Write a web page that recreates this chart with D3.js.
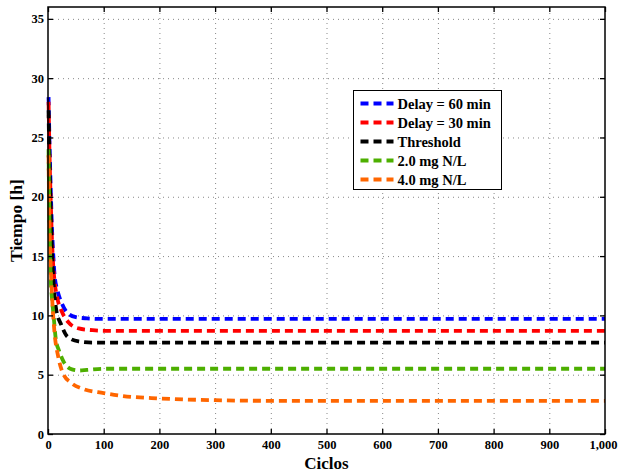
<!DOCTYPE html>
<html>
<head>
<meta charset="utf-8">
<script src="https://cdn.jsdelivr.net/npm/d3@7"></script>
<style>
  body { margin: 0; background: #fff; }
  svg text { font-family: "Liberation Serif", "DejaVu Serif", serif; font-weight: bold; }
</style>
</head>
<body>
<div id="chart"></div>
<script>
const width = 618;
const height = 471;
const margin = { top: 7, right: 13, bottom: 37, left: 48 };

const xTicks = [0, 100, 200, 300, 400, 500, 600, 700, 800, 900, 1000];
const yTicks = [0, 5, 10, 15, 20, 25, 30, 35];

// [ciclo, tiempo]
const delay60 = [[1, 28.4], [3, 24], [5, 20.5], [7, 17.5], [9, 15.5], [12, 13.3], [17, 12.1], [25, 11.0], [35, 10.2], [50, 9.85], [70, 9.75], [100, 9.7], [1000, 9.7]];
const delay30 = [[1, 28.0], [3, 23], [5, 19.5], [7, 16.5], [9, 14.5], [12, 12.8], [17, 11.4], [25, 10.3], [37, 9.4], [55, 8.9], [80, 8.75], [100, 8.7], [1000, 8.7]];
const threshold = [[1, 27.3], [3, 22], [5, 18.5], [7, 15.5], [9, 13.5], [12, 11.5], [15, 10.4], [23, 9.3], [35, 8.2], [55, 7.8], [80, 7.7], [1000, 7.7]];
const mg20 = [[1, 24], [2, 20], [3, 17], [5, 13], [7, 11.5], [10, 10], [14, 8.0], [20, 7.0], [28, 6.1], [40, 5.5], [55, 5.35], [70, 5.4], [100, 5.5], [200, 5.5], [1000, 5.5]];
const mg40 = [[1, 23.5], [2, 19.5], [3, 17], [5, 14], [8, 11], [12, 8.4], [18, 6.6], [27, 5.1], [42, 4.3], [63, 3.8], [100, 3.45], [135, 3.2], [200, 3.0], [300, 2.85], [400, 2.8], [1000, 2.8]];

const seriesNames = ["Delay = 60 min", "Delay = 30 min", "Threshold", "2.0 mg N/L", "4.0 mg N/L"];
const seriesData = [delay60, delay30, threshold, mg20, mg40];
const seriesColors = ["#0000ff", "#ff0000", "#000000", "#4daf00", "#ff6600"];

const svg = d3.select("#chart")
  .append("svg")
  .attr("width", width)
  .attr("height", height);

const x = d3.scaleLinear().domain([0, 1000]).range([margin.left, width - margin.right]);
const y = d3.scaleLinear().domain([0, 36]).range([height - margin.bottom, margin.top]);

// grid
const grid = svg.append("g")
  .attr("stroke", "#888")
  .attr("stroke-width", 1)
  .attr("stroke-dasharray", "1,4");

grid.selectAll(".gx")
  .data(xTicks.slice(1, -1))
  .enter()
  .append("line")
  .attr("x1", (d) => x(d) + 0.5)
  .attr("x2", (d) => x(d) + 0.5)
  .attr("y1", y(0))
  .attr("y2", y(36));

grid.selectAll(".gy")
  .data(yTicks.slice(1))
  .enter()
  .append("line")
  .attr("y1", (d) => y(d) + 0.5)
  .attr("y2", (d) => y(d) + 0.5)
  .attr("x1", x(0))
  .attr("x2", x(1000));

// curves
const line = d3.line()
  .x((d) => x(d[0]))
  .y((d) => y(d[1]))
  .curve(d3.curveMonotoneX);

svg.append("g")
  .selectAll("path")
  .data(seriesData)
  .enter()
  .append("path")
  .attr("d", line)
  .attr("fill", "none")
  .attr("stroke", (d, i) => seriesColors[i])
  .attr("stroke-width", 3.8)
  .attr("stroke-dasharray", "8,5");

// axes (ticks inside, on all four sides)
const xAxisB = d3.axisBottom(x).tickValues(xTicks).tickSizeInner(-5).tickSizeOuter(0).tickPadding(6);
const xAxisT = d3.axisTop(x).tickValues(xTicks).tickSizeInner(-5).tickSizeOuter(0).tickFormat("");
const yAxisL = d3.axisLeft(y).tickValues(yTicks).tickSizeInner(-5).tickSizeOuter(0).tickPadding(4);
const yAxisR = d3.axisRight(y).tickValues(yTicks).tickSizeInner(-5).tickSizeOuter(0).tickFormat("");

const styleAxis = (g) => {
  g.select(".domain").remove();
  g.selectAll("line").attr("stroke", "#000").attr("stroke-width", 1.3);
  g.selectAll("text")
    .attr("fill", "#000")
    .style("font-size", "12.5px")
    .style("font-family", "'Liberation Serif', serif")
    .style("font-weight", "bold");
};

const gxb = svg.append("g").attr("transform", `translate(0,${y(0)})`).call(xAxisB).call(styleAxis);
// last label sits against the page edge, as in the original
gxb.selectAll(".tick text").filter((d) => d === 1000).attr("text-anchor", "end").attr("x", 12);
svg.append("g").attr("transform", `translate(0,${y(36)})`).call(xAxisT).call(styleAxis);
svg.append("g").attr("transform", `translate(${x(0)},0)`).call(yAxisL).call(styleAxis);
svg.append("g").attr("transform", `translate(${x(1000)},0)`).call(yAxisR).call(styleAxis);

svg.append("rect")
  .attr("x", x(0))
  .attr("y", y(36))
  .attr("width", x(1000) - x(0))
  .attr("height", y(0) - y(36))
  .attr("fill", "none")
  .attr("stroke", "#000")
  .attr("stroke-width", 1.5);

// axis labels
svg.append("text")
  .attr("x", (x(0) + x(1000)) / 2)
  .attr("y", 468.5)
  .attr("text-anchor", "middle")
  .style("font-size", "17px")
  .text("Ciclos");

svg.append("text")
  .attr("transform", `translate(21.5,${(y(0) + y(36)) / 2}) rotate(-90)`)
  .attr("text-anchor", "middle")
  .style("font-size", "17.5px")
  .text("Tiempo [h]");

// legend
const legend = svg.append("g").attr("transform", "translate(353.5,90.5)");

legend.append("rect")
  .attr("width", 148)
  .attr("height", 99)
  .attr("fill", "#fff")
  .attr("stroke", "#000")
  .attr("stroke-width", 1);

const items = legend.selectAll(".item")
  .data(seriesNames)
  .enter()
  .append("g")
  .attr("transform", (d, i) => `translate(0,${13 + i * 19})`);

items.append("line")
  .attr("x1", 7)
  .attr("x2", 40)
  .attr("stroke", (d, i) => seriesColors[i])
  .attr("stroke-width", 3.8)
  .attr("stroke-dasharray", "8,5");

items.append("text")
  .attr("x", 44)
  .attr("y", 5)
  .style("font-size", "14.5px")
  .text((d) => d);
</script>
</body>
</html>
